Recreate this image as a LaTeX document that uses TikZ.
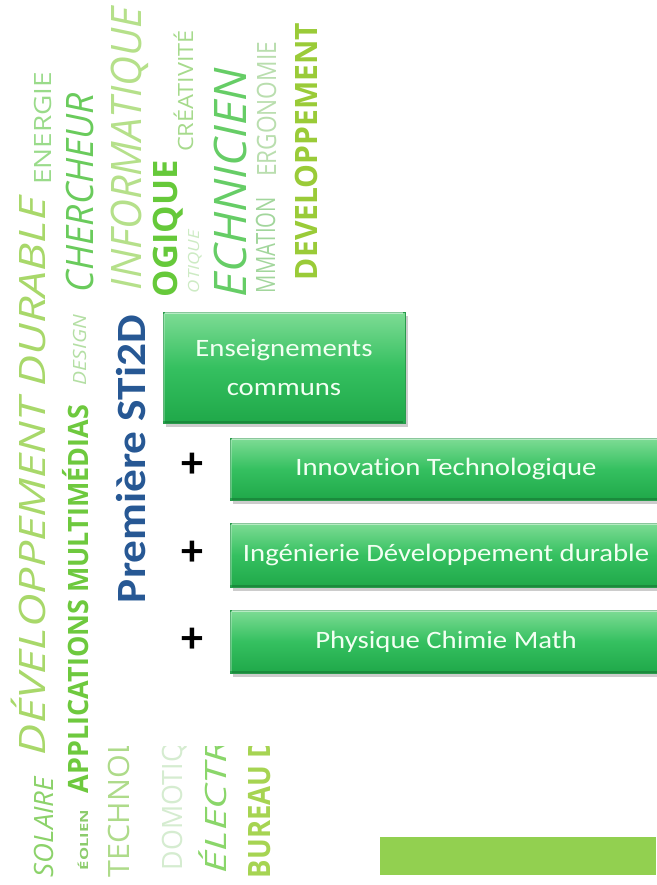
\documentclass[tikz,border=0pt]{standalone}
\usepackage{fontspec}
\usepackage{graphicx}
\setmainfont{Carlito}[Ligatures=NoCommon]
\newfontfamily\cloudfont{Open Sans}
\usetikzlibrary{shadows}
\definecolor{cDD}{HTML}{A8D86A}
\definecolor{cEN}{HTML}{9ADB8A}
\definecolor{cSO}{HTML}{8CD26A}
\definecolor{cCH}{HTML}{6ACB5C}
\definecolor{cDE}{HTML}{B4DFA4}
\definecolor{cAP}{HTML}{6EC93E}
\definecolor{cEO}{HTML}{8CCC6C}
\definecolor{cIN}{HTML}{B5E08A}
\definecolor{cOG}{HTML}{66C93A}
\definecolor{cCR}{HTML}{A6DA8C}
\definecolor{cOT}{HTML}{CDEBC4}
\definecolor{cTE}{HTML}{66CD66}
\definecolor{cER}{HTML}{B9DEAE}
\definecolor{cMM}{HTML}{A2D69C}
\definecolor{cDV}{HTML}{9ACB38}
\definecolor{cTN}{HTML}{AEDB8A}
\definecolor{cDO}{HTML}{D5ECD0}
\definecolor{cEL}{HTML}{8AD66A}
\definecolor{cBU}{HTML}{A6D452}
\definecolor{stiblue}{HTML}{275894}
\definecolor{boxtop}{HTML}{7EDC95}
\definecolor{boxmid}{HTML}{35C060}
\definecolor{boxbot}{HTML}{1FA849}
\definecolor{boxedge}{HTML}{2A9A4C}
\definecolor{boxtext}{HTML}{F2FFF2}
\definecolor{barg}{HTML}{92D050}
\newcommand\cloudword[8]{\node[cloudw,text=#2] (#8) at (#3,#4) {\resizebox{#5pt}{#6pt}{#1\smash{#7}\rule{0pt}{\fontcharht\font`H}}};}
\newcommand\bxs[1]{\scalebox{1.15}[1]{#1}}
\newcommand\bevel[1]{%
  \draw[white, opacity=0.45, line width=2pt] ([xshift=2pt,yshift=-1.5pt]#1.north west) -- ([xshift=-2pt,yshift=-1.5pt]#1.north east);
  \draw[white, opacity=0.25, line width=2pt] ([xshift=1.5pt,yshift=-2pt]#1.north west) -- ([xshift=1.5pt,yshift=2pt]#1.south west);
  \draw[black, opacity=0.18, line width=2pt] ([xshift=2pt,yshift=1.5pt]#1.south west) -- ([xshift=-2pt,yshift=1.5pt]#1.south east);}
\tikzset{
  cloudw/.style={rotate=90, anchor=base west, inner sep=0pt, outer sep=0pt},
  greenbox/.style={rectangle, inner sep=0pt, top color=boxtop, bottom color=boxbot, middle color=boxmid,
    draw=boxedge, line width=0.8pt, drop shadow={opacity=0.4, shadow xshift=2.5pt, shadow yshift=-3.5pt},
    text=boxtext, font=\fontsize{25}{39}\selectfont, align=center},
  plussign/.style={inner sep=0pt, font=\fontsize{44}{44}\selectfont\bfseries, text=black}
}
\begin{document}
\begin{tikzpicture}[x=1pt,y=-1pt]
\fill[white] (0,0) rectangle (656,885);
\useasboundingbox (0,0) rectangle (656,885);
% word cloud
\cloudword{\cloudfont\itshape}{cDD}{45}{755}{558}{26}{DÉVELOPPEMENT DURABLE}{w1}
\cloudword{\cloudfont}{cEN}{51}{185}{113}{17}{ENERGIE}{w2}
\cloudword{\cloudfont\itshape}{cSO}{53}{877}{100}{19}{SOLAIRE}{w3}
\cloudword{\cloudfont\itshape}{cCH}{93}{292}{199}{27}{CHERCHEUR}{w4}
\cloudword{\cloudfont\itshape}{cDE}{86}{385}{70}{13}{DESIGN}{w5}
\cloudword{\cloudfont\bfseries}{cAP}{88}{793}{388}{20}{APPLICATIONS MULTIMÉDIAS}{w6}
\cloudword{\cloudfont\bfseries}{cEO}{88}{870}{60}{8}{ÉOLIEN}{w7}
\cloudword{\cloudfont\itshape}{cIN}{141}{290}{283}{30}{INFORMATIQUE}{w8}
\cloudword{\cloudfont\bfseries}{cOG}{177}{297}{137}{24}{OGIQUE}{w9}
\cloudword{\cloudfont}{cCR}{193}{152}{122}{15}{CRÉATIVITÉ}{w10}
\cloudword{\cloudfont\itshape}{cOT}{199}{293}{63}{11}{OTIQUE}{w11}
\cloudword{\cloudfont\itshape}{cTE}{246}{297}{229}{32}{ECHNICIEN}{w12}
\cloudword{\cloudfont}{cER}{276}{177}{135}{19}{ERGONOMIE}{w13}
\cloudword{\cloudfont}{cMM}{275}{293}{96}{19}{MMATION}{w14}
\cloudword{\cloudfont\bfseries}{cDV}{317}{280}{257}{22}{DEVELOPPEMENT}{w15}
\cloudword{\cloudfont}{cTN}{129}{877}{138}{21}{TECHNOL}{w16}
\cloudword{\cloudfont}{cDO}{182}{870}{128}{20}{DOMOTIQ}{w17}
\cloudword{\cloudfont\itshape}{cEL}{226}{873}{134}{21}{ÉLECTR}{w18}
\cloudword{\cloudfont\bfseries}{cBU}{270}{878}{140}{22}{BUREAU D}{w19}
\fill[white] (98,297) rectangle (656,746);
% title
\node[cloudw,text=stiblue] (title) at (145,603) {\resizebox{288pt}{27pt}{\bfseries\smash{Première STi2D}\rule{0pt}{\fontcharht\font`H}}};
% boxes
\node[greenbox, minimum width=242pt, minimum height=111pt] (b1) at (284,367.5) {\bxs{Enseignements}\\\bxs{communs}};
\node[greenbox, minimum width=432pt, minimum height=62pt] (b2) at (446,469) {\bxs{Innovation Technologique}};
\node[greenbox, minimum width=432pt, minimum height=64pt] (b3) at (446,555) {\bxs{Ingénierie Développement durable}};
\node[greenbox, minimum width=432pt, minimum height=63pt] (b4) at (446,641.5) {\bxs{Physique Chimie Math}};
\bevel{b1}\bevel{b2}\bevel{b3}\bevel{b4}
% plus signs
\node[plussign] (p1) at (192,465) {+};
\node[plussign] (p2) at (192,553) {+};
\node[plussign] (p3) at (192,640) {+};
% bottom bar
\fill[barg] (380,837) rectangle (656,875);
\end{tikzpicture}
\end{document}
